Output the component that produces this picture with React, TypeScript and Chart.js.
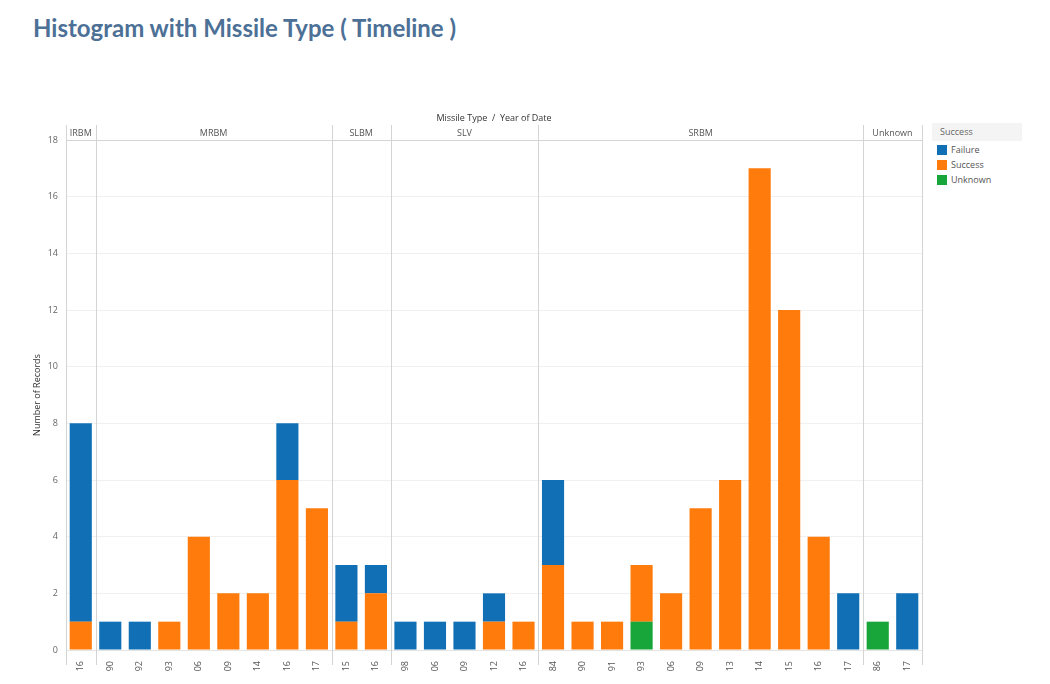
import React, { useEffect, useRef } from "react";
import { Chart, registerables } from "chart.js";

Chart.register(...registerables);

const missileTypes = ["IRBM", "MRBM", "SLBM", "SLV", "SRBM", "Unknown"];
const typeCounts = [1, 8, 2, 5, 11, 2];
const yearLabels = [
  "16",
  "90", "92", "93", "06", "09", "14", "16", "17",
  "15", "16",
  "98", "06", "09", "12", "16",
  "84", "90", "91", "93", "06", "09", "13", "14", "15", "16", "17",
  "86", "17",
];
const failureValues = [
  7,
  1, 1, 0, 0, 0, 0, 2, 0,
  2, 1,
  1, 1, 1, 1, 0,
  3, 0, 0, 0, 0, 0, 0, 0, 0, 0, 2,
  0, 2,
];
const successValues = [
  1,
  0, 0, 1, 4, 2, 2, 6, 5,
  1, 2,
  0, 0, 0, 1, 1,
  3, 1, 1, 2, 2, 5, 6, 17, 12, 4, 0,
  0, 0,
];
const unknownValues = [
  0,
  0, 0, 0, 0, 0, 0, 0, 0,
  0, 0,
  0, 0, 0, 0, 0,
  0, 0, 0, 1, 0, 0, 0, 0, 0, 0, 0,
  1, 0,
];
const yTicks = [0, 2, 4, 6, 8, 10, 12, 14, 16, 18];

const BLUE = "#1170b5";
const ORANGE = "#ff7b0c";
const GREEN = "#18a53a";
const SMALL_FONT = "'Open Sans', 'Noto Sans', sans-serif";

const panePlugin = {
  id: "panes",
  afterDraw(chart: any) {
    const { ctx, chartArea } = chart;
    const x = chart.scales.x;
    const step = x.getPixelForValue(1) - x.getPixelForValue(0);
    const top = chartArea.top - 15;
    const bottom = chartArea.bottom + 15;
    ctx.save();
    ctx.strokeStyle = "#d4d4d4";
    ctx.lineWidth = 1;
    ctx.beginPath();
    ctx.moveTo(chartArea.left, Math.round(chartArea.top) + 0.5);
    ctx.lineTo(chartArea.right, Math.round(chartArea.top) + 0.5);
    ctx.stroke();
    let start = 0;
    const edges: number[] = [chartArea.left];
    missileTypes.forEach((t, i) => {
      const n = typeCounts[i];
      const left = x.getPixelForValue(start) - step / 2;
      const right = x.getPixelForValue(start + n - 1) + step / 2;
      edges.push(right);
      ctx.fillStyle = "#555";
      ctx.font = `9px ${SMALL_FONT}`;
      ctx.textAlign = "center";
      ctx.textBaseline = "middle";
      ctx.fillText(t, (left + right) / 2, chartArea.top - 7);
      start += n;
    });
    edges.forEach((e) => {
      const px = Math.round(e) + 0.5;
      ctx.beginPath();
      ctx.moveTo(px, top);
      ctx.lineTo(px, bottom);
      ctx.stroke();
    });
    ctx.fillStyle = "#333";
    ctx.font = `9px ${SMALL_FONT}`;
    ctx.textAlign = "center";
    ctx.textBaseline = "middle";
    ctx.fillText("Missile Type  /  Year of Date", (chartArea.left + chartArea.right) / 2, chartArea.top - 22);
    ctx.restore();
  },
};

export default function App() {
  const canvasRef = useRef<HTMLCanvasElement | null>(null);

  useEffect(() => {
    document.body.style.margin = "0";
    const canvas = canvasRef.current;
    if (!canvas) return;
    const chart = new Chart(canvas, {
      type: "bar",
      data: {
        labels: yearLabels,
        datasets: [
          { label: "Unknown", data: unknownValues, backgroundColor: GREEN },
          { label: "Success", data: successValues, backgroundColor: ORANGE },
          { label: "Failure", data: failureValues, backgroundColor: BLUE },
        ],
      },
      options: {
        responsive: false,
        maintainAspectRatio: false,
        animation: false,
        layout: { padding: { top: 40, right: 8, left: 0, bottom: 0 } },
        datasets: {
          bar: { categoryPercentage: 1, barPercentage: 0.75 },
        },
        plugins: {
          legend: { display: false },
          tooltip: { enabled: false },
        },
        scales: {
          x: {
            stacked: true,
            grid: { display: false },
            border: { display: true, color: "#e4e4e4" },
            ticks: {
              autoSkip: false,
              maxRotation: 90,
              minRotation: 90,
              padding: 3,
              color: "#555",
              font: { size: 9, family: SMALL_FONT },
            },
            afterFit: (scale: any) => {
              scale.height = 34;
            },
          },
          y: {
            stacked: true,
            min: 0,
            max: 18,
            afterBuildTicks: (scale: any) => {
              scale.ticks = yTicks.map((v) => ({ value: v }));
            },
            grid: { color: "#f0f0f0", drawTicks: false },
            border: { display: false },
            ticks: {
              padding: 8,
              color: "#666",
              font: { size: 9, family: SMALL_FONT },
            },
            title: {
              display: true,
              text: "Number of Records",
              color: "#333",
              font: { size: 9, family: SMALL_FONT },
              padding: { top: 32, bottom: 0 },
            },
            afterFit: (scale: any) => {
              scale.width = 66;
            },
          },
        },
      },
      plugins: [panePlugin],
    });
    return () => chart.destroy();
  }, []);

  const legendItems = [
    { label: "Failure", color: BLUE },
    { label: "Success", color: ORANGE },
    { label: "Unknown", color: GREEN },
  ];

  return (
    <div style={{ position: "relative", width: 1050, height: 684, background: "#fff", overflow: "hidden" }}>
      <div
        style={{
          position: "absolute",
          left: 33,
          top: 14,
          fontFamily: "Lato, sans-serif",
          fontWeight: 700,
          fontSize: 24,
          color: "#4c7096",
          lineHeight: "28px",
          whiteSpace: "nowrap",
        }}
      >
        Histogram with Missile Type ( Timeline )
      </div>
      <canvas
        ref={canvasRef}
        width={930}
        height={584}
        style={{ position: "absolute", left: 0, top: 100, width: 930, height: 584 }}
      />
      <div style={{ position: "absolute", left: 932, top: 123, width: 90, fontFamily: SMALL_FONT, fontSize: 9 }}>
        <div style={{ background: "#f4f4f4", color: "#666", height: 18, lineHeight: "18px", paddingLeft: 8 }}>Success</div>
        {legendItems.map((it, i) => (
          <div
            key={it.label}
            style={{ position: "absolute", left: 5, top: 22 + i * 15, display: "flex", alignItems: "center", height: 10 }}
          >
            <span style={{ display: "inline-block", width: 10, height: 10, background: it.color, marginRight: 4 }} />
            <span style={{ color: "#555", lineHeight: "10px" }}>{it.label}</span>
          </div>
        ))}
      </div>
    </div>
  );
}
